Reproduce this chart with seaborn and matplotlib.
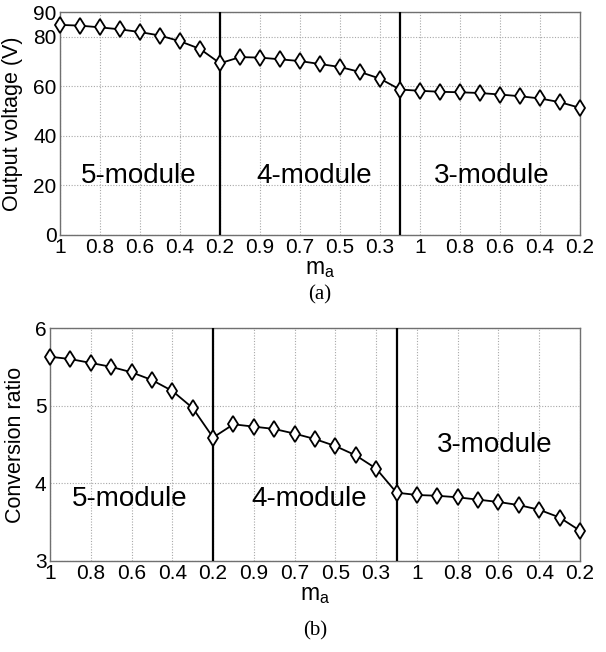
import numpy as np
import pandas as pd
import seaborn as sns
import matplotlib
matplotlib.use("Agg")
import matplotlib.pyplot as plt

# ---- data ----
modules = [5] * 9 + [4] * 9 + [3] * 9
ma = [1.0, 0.9, 0.8, 0.7, 0.6, 0.5, 0.4, 0.3, 0.2,
      1.0, 0.9, 0.8, 0.7, 0.6, 0.5, 0.4, 0.3, 0.2,
      1.0, 0.9, 0.8, 0.7, 0.6, 0.5, 0.4, 0.3, 0.2]
voltage = [84.8, 84.5, 83.8, 83.0, 81.9, 80.5, 78.2, 75.1, 69.3,
           71.8, 71.6, 70.9, 70.2, 69.0, 67.8, 65.8, 63.1, 58.7,
           58.2, 57.8, 57.6, 57.3, 56.7, 56.0, 55.1, 53.6, 51.3]
ratio = [5.63, 5.60, 5.55, 5.50, 5.43, 5.33, 5.19, 4.97, 4.59,
         4.76, 4.73, 4.70, 4.64, 4.57, 4.48, 4.36, 4.19, 3.88,
         3.85, 3.84, 3.82, 3.79, 3.76, 3.72, 3.66, 3.56, 3.39]
module_names = ["5-module", "4-module", "3-module"]
volt_yticks = [0, 20, 40, 60, 80, 90]
ratio_yticks = [3, 4, 5, 6]

df = pd.DataFrame({"pos": np.arange(len(ma)), "ma": ma, "modules": modules,
                   "voltage": voltage, "ratio": ratio})

sns.set_style("white")
plt.rcParams["font.family"] = ["Liberation Sans", "DejaVu Sans"]
plt.rcParams["text.color"] = "black"
plt.rcParams["axes.labelcolor"] = "black"
plt.rcParams["xtick.color"] = "black"
plt.rcParams["ytick.color"] = "black"

fig = plt.figure(figsize=(6.06, 6.52), dpi=100)
W, H = 606, 652

def px_axes(l, r, t, b):
    return fig.add_axes([l / W, 1 - b / H, (r - l) / W, (b - t) / H])

ax1 = px_axes(60, 580, 12, 235)
ax2 = px_axes(50, 580, 328, 561)

tick_pos = df["pos"][::2].tolist()
tick_lab = [f"{v:g}" for v in df["ma"][::2]]
# boundaries: last point of the 5- and 4-module groups
bounds = [df.index[df["modules"] == m].max() for m in (5, 4)]

def style(ax, ycol, yticks, ylabel, texts, caption, ylab_x):
    sns.lineplot(data=df, x="pos", y=ycol, ax=ax, color="black", lw=1.3,
                 marker="d", markersize=8, markerfacecolor="white",
                 markeredgecolor="black", markeredgewidth=1.3, zorder=5,
                 clip_on=False)
    ax.set_xlim(df["pos"].min(), df["pos"].max())
    ax.set_ylim(yticks[0], yticks[-1])
    ax.set_xticks(tick_pos)
    ax.set_xticklabels(tick_lab)
    ax.set_yticks(yticks)
    ax.grid(True, color="#a8a8a8", linestyle=(0, (1, 1.5)), linewidth=0.8)
    for b in bounds:
        ax.axvline(b, color="black", lw=1.6, zorder=4)
    for s in ax.spines.values():
        s.set_color("#707070")
        s.set_linewidth(1.0)
    ax.tick_params(axis="both", labelsize=15, length=0, pad=2.5)
    ax.set_ylabel(ylabel, fontsize=15.5)
    ax.yaxis.set_label_coords(ylab_x, 0.5)
    ax.set_xlabel(r"m$_\mathregular{a}$", fontsize=16.5, labelpad=0)
    for (x, y), name in zip(texts, module_names):
        ax.text(x, y, name, fontsize=20, ha="center", va="center")
    ax.text(0.5, caption, "(a)" if ycol == "voltage" else "(b)",
            transform=ax.transAxes, ha="center", va="center",
            fontsize=15, family="Liberation Serif")

style(ax1, "voltage", volt_yticks, "Output voltage (V)",
      [(3.95, 24), (12.7, 24), (21.6, 24)], -0.27, -0.072)
style(ax2, "ratio", ratio_yticks, "Conversion ratio",
      [(3.9, 3.8), (12.7, 3.8), (21.8, 4.5)], -0.30, -0.045)

fig.savefig("out.png", dpi=100)
